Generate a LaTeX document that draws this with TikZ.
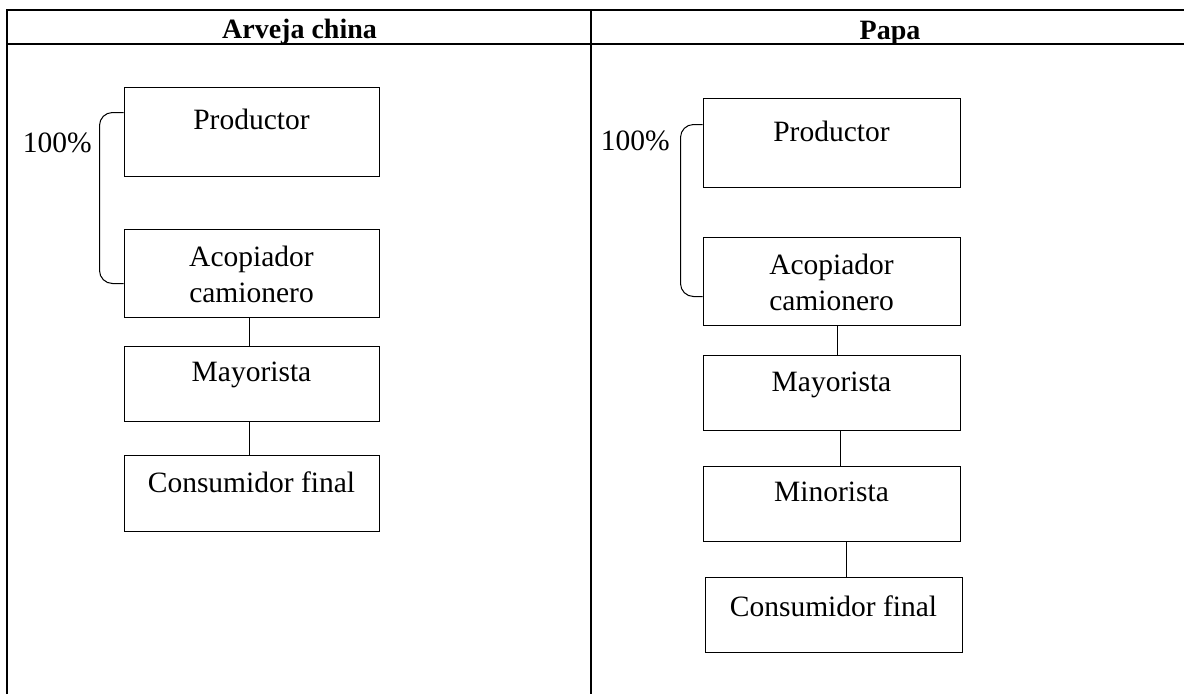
\documentclass[tikz,border=0pt]{standalone}
\usepackage{fontspec}
\setmainfont{Liberation Serif}
\begin{document}
\begin{tikzpicture}[
  x=1pt, y=-1pt,
  caja/.style={draw, line width=1pt, rectangle, minimum width=255, inner sep=0pt},
  texto/.style={anchor=base, yshift=-38, inner sep=0pt, align=center, font=\fontsize{29.5}{36}\selectfont},
  titulo/.style={anchor=base, inner sep=0pt, font=\fontsize{28}{34}\selectfont\bfseries},
  llave/.style={line width=1pt, rounded corners=13},
  tabla/.style={line width=1.5pt}
]
  \useasboundingbox (0,0) rectangle (1184,694);

  % tabla
  \draw[tabla] (7,694) -- (7,10) -- (1184,10);
  \draw[tabla] (7,44) -- (1184,44);
  \draw[tabla] (591,10) -- (591,694);
  \node[titulo] (tA) at (299.5,38) {Arveja china};
  \node[titulo] (tB) at (890,39) {Papa};

  % arveja china
  \node[caja, minimum height=89, label={[texto, yshift=-5]north:Productor}] (prodA) at (251.5,131.5) {};
  \node[caja, minimum height=88, label={[texto, yshift=-36]north:Acopiador\\camionero}] (acoA) at (251.5,273) {};
  \node[caja, minimum height=75, label={[texto, yshift=2]north:Mayorista}] (mayA) at (251.5,383.5) {};
  \node[caja, minimum height=76, label={[texto]north:Consumidor final}] (consA) at (251.5,493) {};

  \draw[line width=1pt] ([xshift=-2]acoA.south) -- ([xshift=-2]acoA.south |- mayA.north);
  \draw[line width=1pt] ([xshift=-2]mayA.south) -- ([xshift=-2]mayA.south |- consA.north);

  \draw[llave] ([yshift=-26]prodA.north west) -- ++(-24,0) |- ([yshift=-55]acoA.north west);
  \node[anchor=base east, inner sep=0pt, font=\fontsize{29.5}{36}\selectfont] (pctA) at (92,152) {100\%};

  % papa
  \node[caja, minimum width=257, minimum height=89, label={[texto, yshift=-6]north:Productor}] (prodB) at (831.5,142.5) {};
  \node[caja, minimum width=257, minimum height=88, label={[texto, yshift=-36]north:Acopiador\\camionero}] (acoB) at (831.5,281) {};
  \node[caja, minimum width=257, minimum height=75, label={[texto, yshift=1]north:Mayorista}] (mayB) at (831.5,392.5) {};
  \node[caja, minimum width=257, minimum height=75, label={[texto, yshift=2]north:Minorista}] (minB) at (831.5,503.5) {};
  \node[caja, minimum width=257, minimum height=75, label={[texto, yshift=-2]north:Consumidor final}] (consB) at (833.5,614.5) {};

  \draw[line width=1pt] ([xshift=6]acoB.south) -- ([xshift=6]acoB.south |- mayB.north);
  \draw[line width=1pt] ([xshift=9]mayB.south) -- ([xshift=9]mayB.south |- minB.north);
  \draw[line width=1pt] ([xshift=15]minB.south) -- ([xshift=15]minB.south |- consB.north);

  \draw[llave] ([yshift=-27]prodB.north west) -- ++(-22,0) |- ([yshift=-60]acoB.north west);
  \node[anchor=base east, inner sep=0pt, font=\fontsize{29.5}{36}\selectfont] (pctB) at (670,150) {100\%};
\end{tikzpicture}
\end{document}
